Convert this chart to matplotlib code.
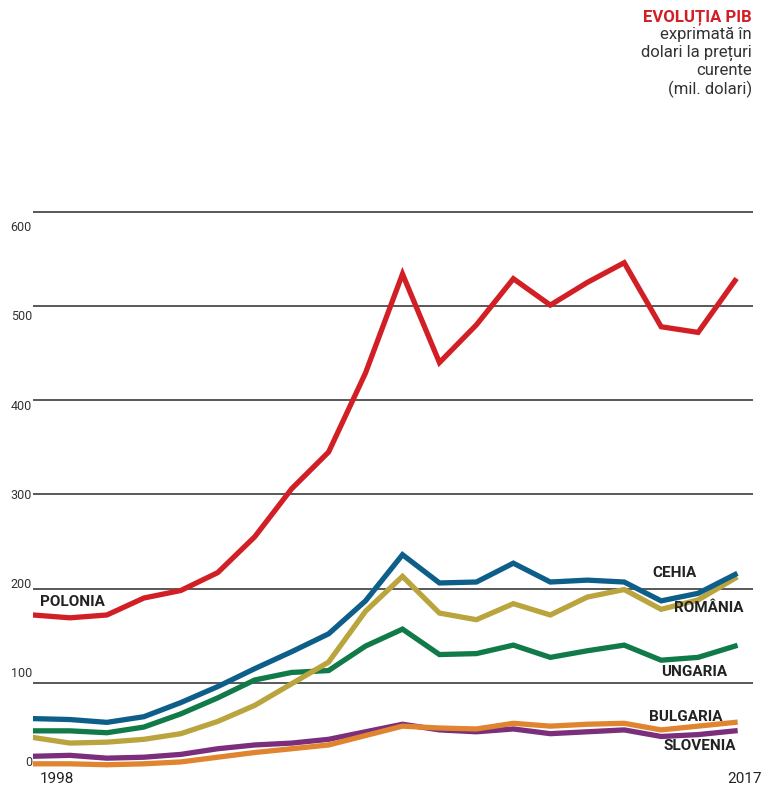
import matplotlib.pyplot as plt
import numpy as np

plt.rcParams['font.family'] = ['Roboto', 'DejaVu Sans']

years = np.arange(1998, 2018)

polonia = [172, 169, 172, 190, 198, 217, 255, 306, 345, 429, 534, 440, 480, 529, 501, 525, 546, 478, 472, 527]
cehia = [62, 61, 58, 64, 79, 96, 115, 133, 152, 187, 236, 206, 207, 227, 207, 209, 207, 187, 195, 215]
romania = [42, 36, 37, 40, 46, 59, 76, 99, 122, 176, 213, 174, 167, 184, 172, 191, 199, 178, 188, 211]
ungaria = [49, 49, 47, 53, 67, 84, 103, 111, 113, 139, 157, 130, 131, 140, 127, 134, 140, 124, 127, 139]
bulgaria = [14, 14, 13, 14, 16, 21, 26, 30, 34, 44, 54, 52, 51, 57, 54, 56, 57, 50, 54, 58]
slovenia = [22, 23, 20, 21, 24, 30, 34, 36, 40, 48, 56, 50, 48, 51, 46, 48, 50, 43, 45, 49]

grid_vals = [100, 200, 300, 400, 500, 600]
tick_vals = [0, 100, 200, 300, 400, 500, 600]

fig = plt.figure(figsize=(7.68, 7.97), dpi=100)
ax = fig.add_axes([33 / 768, 20 / 797, 720 / 768, 584 / 797])
ax.set_xlim(1998, 1998 + 720 / 36.95)
ax.set_ylim(0, 620)
ax.axis('off')

for g in grid_vals:
    ax.axhline(g, color='#3c3c3c', lw=1.2, zorder=1)

# etichetele axei stau usor decalate fata de liniile de grila, ca in original
for v in tick_vals:
    ax.text(1998 - 0.03, 15 + 0.947 * v, str(v), ha='right', va='center',
            fontsize=9, color='#333333', clip_on=False)

series = [
    (slovenia, '#7a2e7c'),
    (bulgaria, '#e08430'),
    (ungaria, '#107a48'),
    (romania, '#b9a43e'),
    (cehia, '#0d5f8a'),
    (polonia, '#d21f26'),
]
for vals, col in series:
    ax.plot(years, vals, color=col, lw=3.8, solid_joinstyle='miter', zorder=3)

lab = dict(fontsize=11, fontweight='bold', color='#222222', va='center', clip_on=False)
ax.text(1998.19, 186, 'POLONIA', ha='left', **lab)
ax.text(2015.97, 217, 'CEHIA', ha='right', **lab)
ax.text(2017.24, 179, 'ROMÂNIA', ha='right', **lab)
ax.text(2016.78, 111, 'UNGARIA', ha='right', **lab)
ax.text(2016.65, 64, 'BULGARIA', ha='right', **lab)
ax.text(2017.03, 33, 'SLOVENIA', ha='right', **lab)

ax.text(1998.19, -2, '1998', ha='left', va='center', fontsize=11, color='#222222', clip_on=False)
ax.text(2017.73, -2, '2017', ha='right', va='center', fontsize=11, color='#222222', clip_on=False)

fig.text(752 / 768, 1 - 17 / 797, 'EVOLUȚIA PIB', ha='right', va='center',
         fontsize=12, fontweight='bold', color='#d21f26')
fig.text(752 / 768, 1 - 27 / 797, 'exprimată în\ndolari la prețuri\ncurente\n(mil. dolari)',
         ha='right', va='top', fontsize=12, color='#333333', linespacing=1.2)

fig.savefig('out.png', dpi=100)
